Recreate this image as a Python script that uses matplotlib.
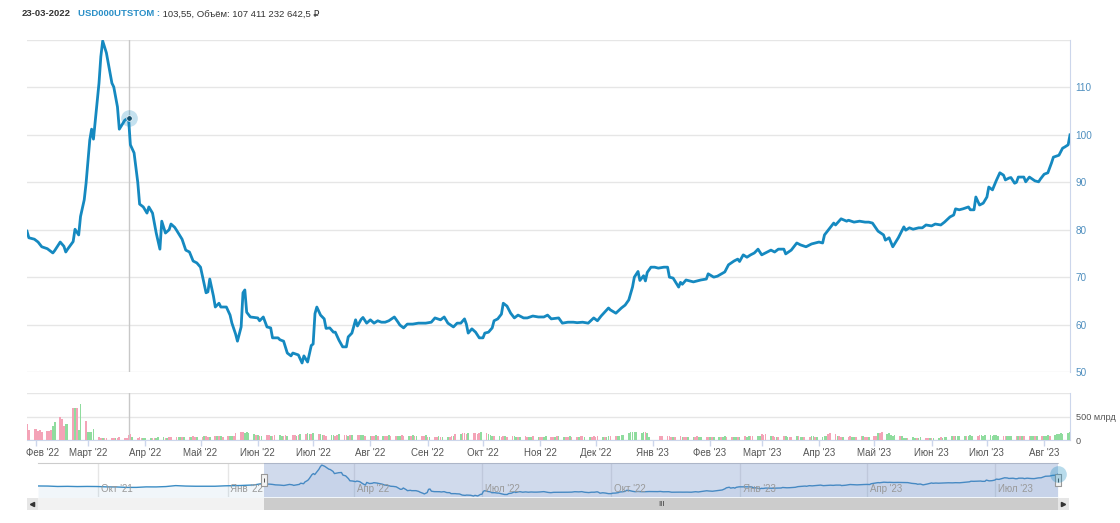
import matplotlib
matplotlib.use("Agg")
import matplotlib.pyplot as plt
import matplotlib.dates as mdates
import matplotlib.ticker as mticker
import matplotlib.transforms as mtransforms
import numpy as np
import pandas as pd

plt.rcParams['font.family'] = ['Liberation Sans', 'DejaVu Sans']

# --- цена закрытия USD000UTSTOM (оценка по графику) ---
price_dates = [
    '2022-01-27', '2022-01-28', '2022-01-31', '2022-02-02', '2022-02-04', '2022-02-07', '2022-02-09', '2022-02-10',
    '2022-02-11', '2022-02-14', '2022-02-16', '2022-02-17', '2022-02-18', '2022-02-21', '2022-02-22', '2022-02-24',
    '2022-02-25', '2022-02-27', '2022-02-28', '2022-03-02', '2022-03-03', '2022-03-04', '2022-03-07', '2022-03-08',
    '2022-03-09', '2022-03-11', '2022-03-14', '2022-03-15', '2022-03-17', '2022-03-18', '2022-03-21', '2022-03-23',
    '2022-03-24', '2022-03-26', '2022-03-28', '2022-03-29', '2022-03-31', '2022-04-02', '2022-04-03', '2022-04-05',
    '2022-04-07', '2022-04-09', '2022-04-10', '2022-04-12', '2022-04-14', '2022-04-15', '2022-04-17', '2022-04-18',
    '2022-04-21', '2022-04-23', '2022-04-25', '2022-04-27', '2022-04-29', '2022-05-01', '2022-05-04', '2022-05-05',
    '2022-05-06', '2022-05-08', '2022-05-09', '2022-05-11', '2022-05-12', '2022-05-15', '2022-05-17', '2022-05-18',
    '2022-05-20', '2022-05-21', '2022-05-23', '2022-05-24', '2022-05-25', '2022-05-26', '2022-05-28', '2022-05-30',
    '2022-06-01', '2022-06-02', '2022-06-04', '2022-06-06', '2022-06-08', '2022-06-09', '2022-06-12', '2022-06-13',
    '2022-06-15', '2022-06-17', '2022-06-19', '2022-06-20', '2022-06-23', '2022-06-25', '2022-06-26', '2022-06-28',
    '2022-06-30', '2022-07-01', '2022-07-02', '2022-07-03', '2022-07-05', '2022-07-07', '2022-07-08', '2022-07-10',
    '2022-07-12', '2022-07-13', '2022-07-15', '2022-07-17', '2022-07-19', '2022-07-20', '2022-07-22', '2022-07-24',
    '2022-07-25', '2022-07-27', '2022-07-28', '2022-07-30', '2022-08-01', '2022-08-03', '2022-08-05', '2022-08-07',
    '2022-08-09', '2022-08-11', '2022-08-14', '2022-08-16', '2022-08-17', '2022-08-19', '2022-08-21', '2022-08-24',
    '2022-08-27', '2022-08-31', '2022-09-03', '2022-09-05', '2022-09-08', '2022-09-10', '2022-09-12', '2022-09-15',
    '2022-09-17', '2022-09-19', '2022-09-21', '2022-09-22', '2022-09-23', '2022-09-25', '2022-09-27', '2022-09-29',
    '2022-10-01', '2022-10-02', '2022-10-04', '2022-10-06', '2022-10-07', '2022-10-09', '2022-10-11', '2022-10-12',
    '2022-10-14', '2022-10-16', '2022-10-18', '2022-10-20', '2022-10-23', '2022-10-25', '2022-10-28', '2022-10-31',
    '2022-11-03', '2022-11-05', '2022-11-07', '2022-11-11', '2022-11-13', '2022-11-16', '2022-11-19', '2022-11-21',
    '2022-11-24', '2022-11-27', '2022-11-30', '2022-12-02', '2022-12-04', '2022-12-08', '2022-12-09', '2022-12-12',
    '2022-12-15', '2022-12-17', '2022-12-19', '2022-12-21', '2022-12-22', '2022-12-24', '2022-12-25', '2022-12-27',
    '2022-12-28', '2022-12-29', '2022-12-31', '2023-01-02', '2023-01-04', '2023-01-07', '2023-01-09', '2023-01-10',
    '2023-01-12', '2023-01-15', '2023-01-16', '2023-01-17', '2023-01-19', '2023-01-21', '2023-01-23', '2023-01-25',
    '2023-01-27', '2023-01-30', '2023-01-31', '2023-02-03', '2023-02-05', '2023-02-09', '2023-02-11', '2023-02-14',
    '2023-02-16', '2023-02-17', '2023-02-19', '2023-02-21', '2023-02-23', '2023-02-25', '2023-02-27', '2023-03-01',
    '2023-03-03', '2023-03-06', '2023-03-08', '2023-03-10', '2023-03-13', '2023-03-14', '2023-03-17', '2023-03-20',
    '2023-03-22', '2023-03-25', '2023-03-28', '2023-03-30', '2023-04-01', '2023-04-03', '2023-04-04', '2023-04-06',
    '2023-04-09', '2023-04-10', '2023-04-13', '2023-04-16', '2023-04-17', '2023-04-20', '2023-04-23', '2023-04-26',
    '2023-04-28', '2023-04-30', '2023-05-03', '2023-05-06', '2023-05-07', '2023-05-09', '2023-05-11', '2023-05-14',
    '2023-05-17', '2023-05-18', '2023-05-20', '2023-05-22', '2023-05-25', '2023-05-27', '2023-05-29', '2023-06-01',
    '2023-06-03', '2023-06-06', '2023-06-08', '2023-06-11', '2023-06-13', '2023-06-14', '2023-06-16', '2023-06-18',
    '2023-06-21', '2023-06-22', '2023-06-24', '2023-06-25', '2023-06-27', '2023-06-29', '2023-07-01', '2023-07-02',
    '2023-07-04', '2023-07-06', '2023-07-08', '2023-07-10', '2023-07-11', '2023-07-13', '2023-07-14', '2023-07-16',
    '2023-07-17', '2023-07-18', '2023-07-21', '2023-07-22', '2023-07-24', '2023-07-27', '2023-07-29', '2023-07-30',
    '2023-08-01', '2023-08-03', '2023-08-05', '2023-08-06', '2023-08-09', '2023-08-11', '2023-08-12', '2023-08-14',
    '2023-08-15',
]
price_values = [
    79.7, 78.3, 78.0, 77.4, 76.4, 76.0, 75.4, 75.1,
    75.6, 77.4, 76.5, 75.3, 75.9, 77.5, 80.1, 78.9,
    82.8, 86.3, 89.8, 98.9, 101.2, 99.1, 110.9, 116.5,
    119.8, 117.3, 110.9, 110.1, 105.9, 101.2, 103.1, 103.55,
    97.9, 96.2, 90.0, 85.4, 84.8, 83.5, 84.8, 83.5,
    79.3, 75.9, 81.8, 79.3, 80.0, 81.2, 80.5, 79.9,
    78.0, 75.7, 75.3, 73.4, 73.0, 72.1, 66.7, 66.9,
    69.6, 66.0, 63.7, 64.5, 63.7, 63.7, 62.0, 60.3,
    58.0, 56.5, 59.5, 66.7, 67.3, 62.6, 61.6, 61.5,
    61.4, 60.8, 61.6, 59.5, 59.3, 57.2, 57.2, 56.8,
    56.5, 54.0, 53.4, 54.0, 53.6, 51.9, 53.4, 52.1,
    55.6, 55.9, 62.3, 63.7, 62.0, 61.2, 59.2, 59.3,
    58.4, 58.4, 56.7, 55.3, 55.3, 57.4, 58.2, 61.0,
    59.7, 61.1, 61.5, 60.3, 61.0, 60.3, 60.8, 60.5,
    60.5, 60.8, 61.6, 60.5, 59.9, 59.3, 60.1, 60.1,
    60.3, 60.3, 60.5, 61.4, 61.0, 61.6, 60.3, 59.5,
    60.3, 60.3, 61.2, 60.1, 58.2, 59.1, 58.4, 57.2,
    57.2, 58.2, 58.4, 59.3, 60.8, 61.2, 62.2, 64.5,
    63.9, 62.4, 61.4, 62.0, 61.4, 61.4, 61.8, 61.6,
    61.6, 62.0, 61.2, 61.4, 60.3, 60.5, 60.5, 60.4,
    60.5, 60.3, 61.4, 60.8, 61.8, 63.5, 63.1, 62.4,
    63.5, 64.1, 65.2, 67.9, 70.0, 71.2, 69.3, 70.3,
    69.2, 71.0, 72.1, 72.1, 71.9, 72.1, 72.1, 70.0,
    69.8, 67.9, 68.9, 68.5, 69.4, 69.2, 69.0, 69.2,
    69.4, 69.6, 70.7, 70.0, 70.2, 71.1, 72.6, 73.4,
    73.8, 73.3, 74.7, 74.2, 74.7, 75.1, 75.9, 74.7,
    75.1, 75.7, 75.3, 75.9, 75.9, 74.9, 75.7, 77.2,
    76.8, 76.4, 77.0, 77.2, 77.4, 77.2, 78.9, 79.9,
    81.4, 81.0, 82.3, 81.8, 82.0, 81.6, 81.8, 81.6,
    81.6, 81.4, 79.7, 78.9, 77.8, 78.3, 76.4, 78.3,
    80.6, 79.9, 80.4, 80.1, 80.4, 80.4, 81.0, 80.8,
    81.2, 81.0, 81.6, 82.7, 83.1, 84.4, 84.2, 84.4,
    84.8, 84.2, 84.2, 86.9, 85.2, 85.6, 86.9, 89.0,
    88.4, 90.3, 92.0, 91.5, 90.5, 90.9, 91.0, 89.8,
    90.0, 91.1, 91.1, 90.1, 91.1, 90.3, 90.1, 90.7,
    91.7, 92.0, 94.1, 95.3, 95.7, 97.2, 97.4, 97.9,
    100.0,
]

# --- история 2021 года для навигатора ---
nav_early_dates = ['2021-08-19', '2021-08-26', '2021-09-02', '2021-09-09', '2021-09-16', '2021-09-23',
                   '2021-09-30', '2021-10-07', '2021-10-14', '2021-10-21', '2021-10-28', '2021-11-04',
                   '2021-11-11', '2021-11-18', '2021-11-25', '2021-12-02', '2021-12-09', '2021-12-16',
                   '2021-12-23', '2021-12-30', '2022-01-10', '2022-01-14', '2022-01-20', '2022-01-24']
nav_early_values = [74.0, 73.8, 72.9, 73.2, 72.7, 73.0,
                    72.8, 72.0, 71.8, 70.9, 70.9, 72.0,
                    71.9, 72.7, 74.8, 73.8, 73.4, 73.5,
                    73.4, 74.3, 75.0, 75.5, 76.3, 78.5]

# --- объём торгов, млрд руб. (по торговым дням) ---
volumes = [
    340, 210, 240,                                                                     # янв 22
    230, 200, 220, 180, 200, 190, 210, 290, 390, 500, 440, 290, 350, 350, 690, 690,
    680, 210, 760, 410,                                                                # фев 22
    160, 170, 170, 240, 60, 50, 40, 50, 45, 40, 50, 45, 50, 55, 40, 45, 110, 120, 60,
    50, 55, 45, 50,                                                                    # мар 22
    50, 45, 40, 45, 50, 55, 60, 50, 45, 55, 60, 65, 70, 60, 55, 60, 65, 70, 75, 70, 65,  # апр 22
    70, 75, 80, 70, 65, 75, 80, 85, 80, 70, 75, 80, 85, 90, 150, 160, 170, 140, 160, 150,
    120, 100,                                                                          # май 22
    100, 90, 95, 100, 110, 95, 90, 100, 105, 95, 90, 100, 95, 110, 100, 95, 105, 120,
    130, 140, 135, 130,                                                                # июн 22
    140, 130, 120, 110, 100, 95, 105, 100, 95, 110, 120, 105, 100, 95, 110, 100, 105,
    115, 110, 100, 95,                                                                 # июл 22
    95, 90, 85, 100, 95, 90, 85, 90, 100, 95, 85, 90, 95, 100, 90, 85, 95, 100, 90, 85,
    90, 95, 100,                                                                       # авг 22
    70, 65, 60, 70, 75, 65, 70, 60, 70, 75, 80, 120, 130, 140, 150, 135, 145, 150, 140,
    130, 150, 160,                                                                     # сен 22
    150, 130, 110, 90, 80, 75, 70, 80, 75, 70, 80, 75, 70, 65, 70, 75, 70, 65, 70, 75, 70,  # окт 22
    70, 65, 70, 75, 70, 65, 70, 75, 80, 70, 65, 70, 75, 70, 65, 70, 75, 80, 70, 65, 70, 75,  # ноя 22
    70, 75, 70, 65, 70, 75, 80, 85, 90, 95, 100, 110, 140, 160, 170, 180, 160, 150, 170,
    160, 140, 60,                                                                      # дек 22
    0, 0, 0, 80, 85, 80, 75, 70, 65, 70, 75, 70, 65, 70, 60, 65, 70, 75, 70, 65, 60, 70,  # янв 23
    60, 65, 70, 65, 60, 70, 75, 70, 65, 60, 70, 65, 70, 75, 70, 80, 85, 90, 85, 80,   # фев 23
    120, 110, 130, 80, 75, 70, 65, 70, 75, 80, 70, 65, 70, 75, 80, 70, 65, 60, 70, 75,
    80, 70, 65,                                                                        # мар 23
    70, 75, 80, 130, 150, 120, 80, 75, 70, 65, 70, 75, 70, 65, 70, 75, 80, 70, 65, 70,  # апр 23
    75, 80, 150, 140, 160, 130, 150, 100, 95, 100, 90, 95, 50, 45, 50, 55, 50, 45, 50,
    55, 50, 45, 50,                                                                    # май 23
    50, 45, 50, 55, 50, 60, 70, 80, 90, 85, 90, 80, 85, 90, 95, 100, 90, 95, 100, 105,
    95, 100,                                                                           # июн 23
    100, 95, 105, 100, 90, 85, 80, 85, 90, 80, 85, 80, 75, 80, 85, 80, 75, 80, 85, 90, 85,  # июл 23
    90, 95, 100, 90, 110, 120, 130, 140, 130, 150, 160,                                # авг 23
]
# u - рост, d - падение
directions = (
    "ddd"
    "ddddddduuddduududuud"
    "uuuuddudddduddddddudddu"
    "uudduuududdduudududdu"
    "duddudududduudddduuuud"
    "ududdudduudduddududuud"
    "uduudduudduddududduud"
    "uddududdudduuddudududdu"
    "dudduduuddududdduddddu"
    "duuududdudduududduudu"
    "dduudduduudduddudduudd"
    "dduduudduuuuuuuuuuuduu"
    "uuuddddduddudduudduudd"
    "uduuduudduududuudduu"
    "ddduddudduudduduudduudu"
    "uuuddduddudduudduddu"
    "ddudduuuuuduuuduuduuddu"
    "duuduuuuduuuuduuudduuu"
    "uuuuudduuudududduudud"
    "uuuduuuuuuu"
)

months_ru = ['Янв', 'Фев', 'Март', 'Апр', 'Май', 'Июн', 'Июл', 'Авг', 'Сен', 'Окт', 'Ноя', 'Дек']
hover_date = '2022-03-23'
hover_value = 103.55

LINE = '#1589c0'
UP = '#8fdc9e'
DOWN = '#f4a3b7'
GRID = '#e6e6e6'
AXIS = '#ccd6eb'

assert len(price_dates) == len(price_values)
assert len(volumes) == len(directions)

W, H = 1120, 523


def box(x0, y0, x1, y1):
    return [x0 / W, 1 - y1 / H, (x1 - x0) / W, (y1 - y0) / H]


def month_label(x, pos=None):
    d = mdates.num2date(x)
    return f"{months_ru[d.month - 1]} '{d:%y}"


fig = plt.figure(figsize=(W / 100, H / 100), dpi=100)
ax = fig.add_axes(box(27, 40, 1070, 372))
axv = fig.add_axes(box(27, 393, 1070, 440), sharex=ax)
axn = fig.add_axes(box(38, 463, 1058, 497))
axs = fig.add_axes(box(27, 498, 1069, 510))

dates = pd.to_datetime(price_dates)
start, end = dates[0], dates[-1]

# основной график
ax.plot(dates, price_values, color=LINE, lw=2, solid_joinstyle='round', zorder=3)
ax.axvline(pd.Timestamp(hover_date), color='#c8c8c8', lw=1, zorder=2)
ax.plot([pd.Timestamp(hover_date)], [hover_value], 'o', ms=12, color=LINE, alpha=0.25, mec='none', zorder=4)
ax.plot([pd.Timestamp(hover_date)], [hover_value], 'o', ms=4, color='#14506e', mec='white', mew=0.5, zorder=5)
ax.set_xlim(start, end)
ax.set_ylim(50, 120)
ax.set_yticks(range(50, 121, 10))
ax.set_yticklabels([str(v) if v < 120 else '' for v in range(50, 121, 10)])
ax.yaxis.tick_right()
ax.tick_params(axis='y', length=0, pad=4, labelsize=7.2, labelcolor='#4f8fbf')
ax.tick_params(axis='x', bottom=False, labelbottom=False)
ax.grid(axis='y', color=GRID, lw=1)
for s in ['top', 'left', 'bottom']:
    ax.spines[s].set_visible(False)
ax.spines['right'].set_color(AXIS)

# объём
vol_dates = pd.bdate_range(start, periods=len(volumes))
bar_colors = [UP if c == 'u' else DOWN for c in directions]
axv.bar(vol_dates, volumes, width=0.9, color=bar_colors, zorder=3)
axv.axvline(pd.Timestamp(hover_date), color='#c8c8c8', lw=1, zorder=2)
axv.set_ylim(0, 1000)
axv.set_yticks([0, 500, 1000])
axv.set_yticklabels(['0', '500 млрд', ''])
axv.yaxis.tick_right()
axv.tick_params(axis='y', length=0, pad=4, labelsize=6.6, labelcolor='#555555')
axv.grid(axis='y', color=GRID, lw=1)
axv.xaxis.set_major_locator(mdates.MonthLocator())
axv.xaxis.set_major_formatter(mticker.FuncFormatter(month_label))
axv.tick_params(axis='x', length=4, width=1, color=AXIS, pad=2, labelsize=7, labelcolor='#555555')
for s in ['top', 'left']:
    axv.spines[s].set_visible(False)
axv.spines['bottom'].set_color(AXIS)
axv.spines['right'].set_color(AXIS)
# первую подпись прижимаем к левому краю, как в оригинале
first = axv.get_xticklabels()[0]
first.set_transform(first.get_transform() + mtransforms.ScaledTranslation(6 / 100, 0, fig.dpi_scale_trans))

# навигатор
nav_dates = pd.to_datetime(nav_early_dates).append(dates)
nav_values = nav_early_values + price_values
nav_start = nav_dates[0]
axn.plot(nav_dates, nav_values, color='#3a8cc4', lw=1, zorder=3)
axn.fill_between(nav_dates, nav_values, 40, color='#3a8cc4', alpha=0.07, lw=0, zorder=2)
axn.axvspan(start, end, color='#6685c2', alpha=0.3, lw=0, zorder=4)
axn.set_xlim(nav_start, end)
axn.set_ylim(49.8, 124.4)
quarters = pd.date_range('2021-10-01', end, freq='QS')
axn.set_xticks(quarters)
axn.grid(axis='x', color=GRID, lw=1)
axn.tick_params(length=0, labelbottom=False, labelleft=False)
for q in quarters:
    axn.annotate(f"{months_ru[q.month - 1]} '{q:%y}", (q, 0), xycoords=('data', 'axes fraction'),
                 xytext=(2, 2), textcoords='offset points', ha='left', va='bottom',
                 fontsize=7, color='#999999', zorder=5)
for s in ['left', 'right', 'bottom']:
    axn.spines[s].set_visible(False)
axn.spines['top'].set_color('#cccccc')
handle = [(-1, -2), (1, -2), (1, 2), (-1, 2), (-1, -2)]
for d in [start, end]:
    axn.plot([d], [0.5], marker=handle, ms=8, mfc='#f2f2f2', mec='#999999', mew=0.8,
             transform=axn.get_xaxis_transform(), clip_on=False, zorder=6)
    axn.plot([d], [0.5], marker='|', ms=3, mec='#333333', mew=0.6,
             transform=axn.get_xaxis_transform(), clip_on=False, zorder=7)
axn.plot([end], [nav_values[-1]], 'o', ms=12, color=LINE, alpha=0.3, mec='none', clip_on=False, zorder=8)

# полоса прокрутки
pad = (end - nav_start) * (11 / 1020)
axs.set_xlim(nav_start - pad, end + pad)
axs.set_ylim(0, 1)
axs.axvspan(nav_start, end, color='#f2f2f2', lw=0)
axs.axvspan(start, end, color='#cccccc', lw=0)
axs.axvspan(nav_start - pad, nav_start, color='#e6e6e6', lw=0)
axs.axvspan(end, end + pad, color='#e6e6e6', lw=0)
axs.plot([nav_start - pad / 2], [0.5], marker='<', ms=3, color='#333333')
axs.plot([end + pad / 2], [0.5], marker='>', ms=3, color='#333333')
axs.text(start + (end - start) / 2, 0.5, 'III', ha='center', va='center', fontsize=5.5, color='#333333')
axs.axis('off')

# заголовок
t1 = fig.text(22 / W, 1 - 14 / H, '23-03-2022', fontsize=6.8, fontweight='bold', color='#333333', va='center')
t2 = plt.annotate('USD000UTSTOM :', xy=(1, 0.5), xycoords=t1, xytext=(5, 0), textcoords='offset points',
                  va='center', fontsize=6.8, fontweight='bold', color='#2a8fc7', annotation_clip=False)
plt.annotate(' 103,55, Объём: 107 411 232 642,5 ₽', xy=(1, 0.5), xycoords=t2, xytext=(0, 0),
             textcoords='offset points', va='center', fontsize=6.8, color='#333333', annotation_clip=False)

fig.savefig('out.png', dpi=100)
